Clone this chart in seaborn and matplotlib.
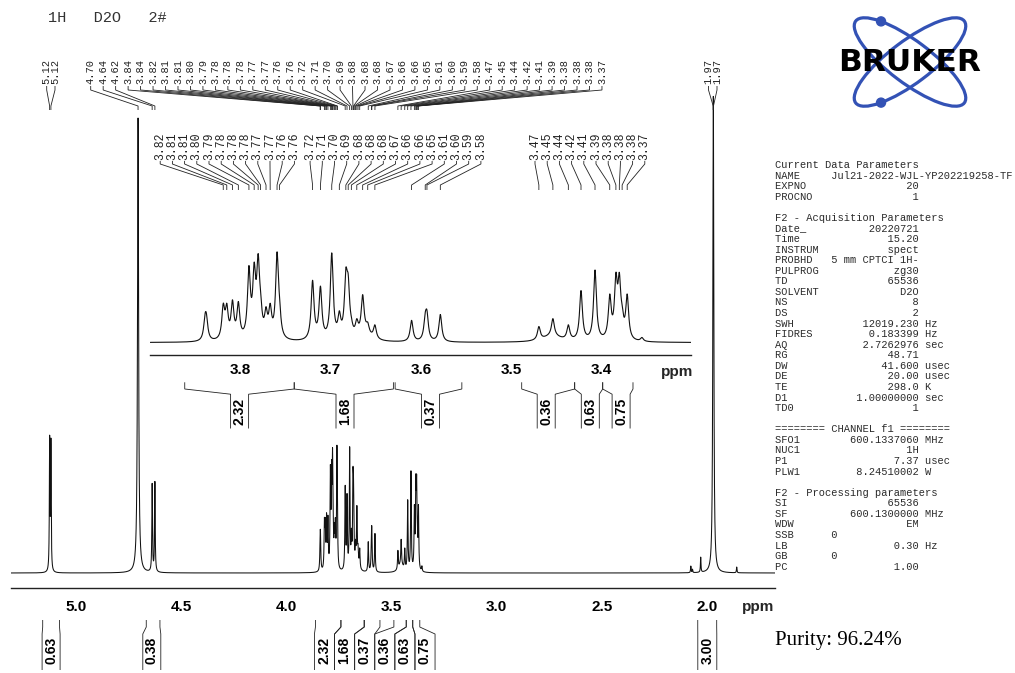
import numpy as np
import pandas as pd
import matplotlib
matplotlib.use("Agg")
import matplotlib.pyplot as plt
import seaborn as sns
from matplotlib.patches import Ellipse, Circle
from matplotlib.ticker import MultipleLocator, FormatStrFormatter

# ---------------- data ----------------
header_text = "1H   D2O   2#"
purity_text = "Purity: 96.24%"

# peak list: shift (ppm), apparent height (a.u.), half width (ppm), peak-picked?
peak_ppm = [5.1240, 5.1180, 4.7040, 4.6370, 4.6240,
            3.8388, 3.8373, 3.8187, 3.8148, 3.8085, 3.8020, 3.7903, 3.7845, 3.7801, 3.7774,
            3.7714, 3.7668, 3.7592, 3.7565,
            3.7199, 3.7112, 3.6987, 3.6903, 3.6831, 3.6805, 3.6770, 3.6710, 3.6645, 3.6589, 3.6510,
            3.6104, 3.5953, 3.5934, 3.5786,
            3.4696, 3.4541, 3.4370, 3.4230, 3.4075, 3.3912, 3.3844, 3.3806, 3.3775, 3.3719, 3.3556,
            2.0780, 2.0700, 2.0310, 1.9716, 1.9704, 1.8600]
peak_height = [286, 280, 944, 186, 190,
               85, 85, 115, 115, 125, 120, 225, 235, 260, 150,
               105, 115, 265, 135,
               182, 165, 262, 93, 218, 200, 75, 70, 140, 60, 52,
               65, 88, 95, 82,
               47, 70, 52, 152, 212, 142, 205, 205, 110, 142, 15,
               14.5, 8, 33, 948, 948, 12.4]
peak_hwhm = [0.0016, 0.0016, 0.0030, 0.0017, 0.0017] + [0.0019] * 40 + \
            [0.0015, 0.0015, 0.0015, 0.0025, 0.0025, 0.0015]
peak_picked = [True] * 44 + [False] + [False, False, False, True, True, False]

# broad underlying humps
hump_ppm = [3.455, 3.662]
hump_height = [18.0, 20.0]
hump_hwhm = [0.012, 0.008]

# integrals
integral_labels = ["0.63", "0.38", "2.32", "1.68", "0.37", "0.36", "0.63", "0.75", "3.00"]
integral_start = [5.157, 4.665, 3.8613, 3.7402, 3.6286, 3.4886, 3.430, 3.399, 2.045]
integral_end = [5.077, 4.600, 3.7402, 3.6305, 3.5548, 3.430, 3.399, 3.3655, 1.955]

# acquisition / processing parameter block: (name, value, unit, alignment)
param_sections = [
    ("Current Data Parameters", [
        ("NAME", "Jul21-2022-WJL-YP202219258-TF", "", "l"),
        ("EXPNO", "20", "", "r"),
        ("PROCNO", "1", "", "r")]),
    ("F2 - Acquisition Parameters", [
        ("Date_", "20220721", "", "r"),
        ("Time", "15.20", "", "r"),
        ("INSTRUM", "spect", "", "r"),
        ("PROBHD", "5 mm CPTCI 1H-", "", "r"),
        ("PULPROG", "zg30", "", "r"),
        ("TD", "65536", "", "r"),
        ("SOLVENT", "D2O", "", "r"),
        ("NS", "8", "", "r"),
        ("DS", "2", "", "r"),
        ("SWH", "12019.230", "Hz", "r"),
        ("FIDRES", "0.183399", "Hz", "r"),
        ("AQ", "2.7262976", "sec", "r"),
        ("RG", "48.71", "", "r"),
        ("DW", "41.600", "usec", "r"),
        ("DE", "20.00", "usec", "r"),
        ("TE", "298.0", "K", "r"),
        ("D1", "1.00000000", "sec", "r"),
        ("TD0", "1", "", "r")]),
    ("======== CHANNEL f1 ========", [
        ("SFO1", "600.1337060", "MHz", "r"),
        ("NUC1", "1H", "", "r"),
        ("P1", "7.37", "usec", "r"),
        ("PLW1", "8.24510002", "W", "r")]),
    ("F2 - Processing parameters", [
        ("SI", "65536", "", "r"),
        ("SF", "600.1300000", "MHz", "r"),
        ("WDW", "EM", "", "r"),
        ("SSB", "0", "", "l"),
        ("LB", "0.30", "Hz", "r"),
        ("GB", "0", "", "l"),
        ("PC", "1.00", "", "r")]),
]

# ---------------- style ----------------
sns.set_style("white")
plt.rcParams["font.family"] = ["Liberation Sans", "DejaVu Sans"]
plt.rcParams["font.weight"] = "bold"
MONO = ["Liberation Mono", "DejaVu Sans Mono"]

W, H = 1015, 673
fig = plt.figure(figsize=(W / 100, H / 100), dpi=100)


def frac(x0, y0, x1, y1):
    return [x0 / W, 1 - y1 / H, (x1 - x0) / W, (y1 - y0) / H]


MAIN_LIM = (5.309, 1.678)
INSET_LIM = (3.8995, 3.301)
MAIN_PPU = 0.482     # px per intensity unit in main plot
INSET_PPU = 0.3425   # px per intensity unit in inset

ax = fig.add_axes(frac(10.7, 50, 775, 588))
ax_in = fig.add_axes(frac(150.2, 200, 691.3, 354.6))
ov = fig.add_axes([0, 0, 1, 1])

# ---------------- spectrum from the peak list ----------------
P = np.array(peak_ppm)
Hh = np.array(peak_height, dtype=float)
Wd = np.array(peak_hwhm)


def lor(x, c, w):
    return 1.0 / (1.0 + ((x - c) / w) ** 2)


def humps(x):
    return sum(h * lor(x, c, w) for c, h, w in zip(hump_ppm, hump_height, hump_hwhm))


target = np.clip(Hh - humps(P), 1.0, None)
M = lor(P[:, None], P[None, :], Wd[None, :])
amp = target.copy()
for _ in range(800):
    amp *= target / (M @ amp)

xg = np.linspace(MAIN_LIM[0], MAIN_LIM[1], 40000)
yg = humps(xg) + (amp[None, :] * lor(xg[:, None], P[None, :], Wd[None, :])).sum(axis=1)
df = pd.DataFrame({"ppm": xg, "intensity": yg})

sns.lineplot(data=df, x="ppm", y="intensity", ax=ax, color="#111111",
             linewidth=0.75, estimator=None, sort=False)
dfi = df[(df.ppm <= INSET_LIM[0]) & (df.ppm >= INSET_LIM[1])]
sns.lineplot(data=dfi, x="ppm", y="intensity", ax=ax_in, color="#111111",
             linewidth=0.8, estimator=None, sort=False)

ax.set_xlim(*MAIN_LIM)
ax.set_ylim(-15 / MAIN_PPU, 538 / MAIN_PPU - 15 / MAIN_PPU)
ax_in.set_xlim(*INSET_LIM)
ax_in.set_ylim(-12 / INSET_PPU, 142.6 / INSET_PPU)

for a, maj, mnr, mlen, nlen, pad in [(ax, 0.5, 0.1, 5, 2.6, 3.5), (ax_in, 0.1, 0.01, 3.6, 2.2, 2.5)]:
    a.set_facecolor("none")
    a.set_xlabel("")
    a.set_ylabel("")
    a.set_yticks([])
    for s in ["top", "left", "right"]:
        a.spines[s].set_visible(False)
    a.spines["bottom"].set_color("#222222")
    a.spines["bottom"].set_linewidth(1.0)
    a.xaxis.set_major_locator(MultipleLocator(maj))
    a.xaxis.set_minor_locator(MultipleLocator(mnr))
    a.xaxis.set_major_formatter(FormatStrFormatter("%.1f"))
    a.tick_params(axis="x", which="major", direction="out", length=mlen, width=0.9,
                  pad=pad, labelsize=11, color="#222222", labelcolor="black")
    a.tick_params(axis="x", which="minor", direction="out", length=nlen, width=0.8,
                  color="#222222")
    if a.get_legend():
        a.get_legend().remove()

# ---------------- overlay (pixel coordinates) ----------------
ov.set_xlim(0, W)
ov.set_ylim(H, 0)
ov.axis("off")
ov.set_facecolor("none")

LINE = dict(color="#222222", lw=0.6, solid_capstyle="butt", solid_joinstyle="miter")


def px_of(a, p):
    return a.transData.transform((p, 0.0))[0]


def leader(xl, xp, ys):
    ov.plot([xl, xl, xp, xp], ys, **LINE)


def plabel(x, y, s, size):
    ov.text(x, y, s, rotation=90, ha="center", va="bottom", fontsize=size,
            family=MONO, fontweight="normal", color="#222222")


picked = [(p, f"{p:.2f}") for p, k in zip(peak_ppm, peak_picked) if k]

# top labels of main spectrum
TOP_Y = (86, 90, 106, 110)
left_pair = [pp for pp in picked if pp[0] > 5.0]
right_pair = [pp for pp in picked if pp[0] < 2.0]
mid = [pp for pp in picked if 3.36 < pp[0] < 4.8]
for xl, (p, s) in zip([46.7, 55.0], left_pair):
    plabel(xl, 84.5, s, 7.5)
    leader(xl, px_of(ax, p), TOP_Y)
for xl, (p, s) in zip([708.5, 717.0], right_pair):
    plabel(xl, 84.5, s, 7.5)
    leader(xl, px_of(ax, p), TOP_Y)
for i, (p, s) in enumerate(mid):
    xl = 90.7 + i * 12.47
    plabel(xl, 84.5, s, 7.5)
    leader(xl, px_of(ax, p), TOP_Y)

# inset labels
IN_Y = (161, 164, 185, 190)
groups = [((3.83, 3.74), 227.3), ((3.74, 3.55), 395.5), ((3.50, 3.36), 589.9)]
for (hi, lo), centre in groups:
    members = [pp for pp in picked if lo < pp[0] < hi]
    n = len(members)
    for i, (p, s) in enumerate(members):
        xl = centre + (i - (n - 1) / 2) * 12.2
        plabel(xl, 159.5, s, 8.3)
        leader(xl, px_of(ax_in, p), IN_Y)

# integrals
main_centres = [51.1, 151.8, 324.5, 344.6, 364.7, 384.8, 404.9, 425.0, 707.3]
main_hw = [9.0, 9.0, 10.05, 10.05, 10.05, 10.05, 10.05, 10.05, 9.5]
inset_centres = {2: 239.6, 3: 345.0, 4: 430.5, 5: 546.2, 6: 590.3, 7: 621.1}


def bracket(a, i, c, hw, ys, ylab):
    xa = px_of(a, integral_start[i])
    xb = px_of(a, integral_end[i])
    ov.plot([xa, xa, c - hw, c - hw], ys, **LINE)
    ov.plot([xb, xb, c + hw, c + hw], ys, **LINE)
    ov.text(c, ylab, integral_labels[i], rotation=90, ha="center", va="center",
            fontsize=10, fontweight="bold", color="black")


for i in range(len(integral_labels)):
    bracket(ax, i, main_centres[i], main_hw[i], (620, 627, 634, 670), 650)
for i, c in inset_centres.items():
    bracket(ax_in, i, c, 9.0, (382.3, 389, 394.2, 428.5), 411.4)

# axis unit labels
ov.text(774, 607.5, "ppm", ha="right", va="center", fontsize=11, fontweight="bold")
ov.text(693, 372, "ppm", ha="right", va="center", fontsize=11, fontweight="bold")

# header
ov.text(48, 18, header_text, ha="left", va="center", fontsize=11, family=MONO,
        fontweight="normal", color="#333333")

# parameter block
lines = []
for si, (title, items) in enumerate(param_sections):
    if si > 0:
        lines.append("")
    lines.append(title)
    for name, val, unit, al in items:
        if al == "l" or len(name) + len(val) >= 23:
            s = name.ljust(9) + val
        else:
            s = name + val.rjust(23 - len(name))
        if unit:
            s += " " + unit
        lines.append(s)
for i, s in enumerate(lines):
    if s:
        ov.text(775, 165 + i * 10.57, s, ha="left", va="center", fontsize=7.45,
                family=MONO, fontweight="normal", color="#2a2a2a")

# purity
ov.text(775, 640, purity_text, ha="left", va="center", fontsize=15,
        family=["Liberation Serif", "DejaVu Serif"], fontweight="normal", color="black")

# Bruker logo
LC = (910, 62)
LA, LB, TH = 68, 21, 37
blue = "#3352b5"
for ang in (TH, -TH):
    ov.add_patch(Ellipse(LC, 2 * LA, 2 * LB, angle=ang, fill=False, ec=blue, lw=2.3))
t = np.deg2rad(225.6)
th = np.deg2rad(TH)
dx = LA * np.cos(t) * np.cos(th) - LB * np.sin(t) * np.sin(th)
dy = LA * np.cos(t) * np.sin(th) + LB * np.sin(t) * np.cos(th)
for sgn in (1, -1):
    ov.add_patch(Circle((LC[0] + dx, LC[1] + sgn * dy), 4.5, color=blue))
ov.text(LC[0], LC[1] + 0.5, "BRUKER", ha="center", va="center", fontsize=22.5,
        family=["DejaVu Sans"], fontweight="heavy", color="black")

fig.savefig("out.png", dpi=100)
